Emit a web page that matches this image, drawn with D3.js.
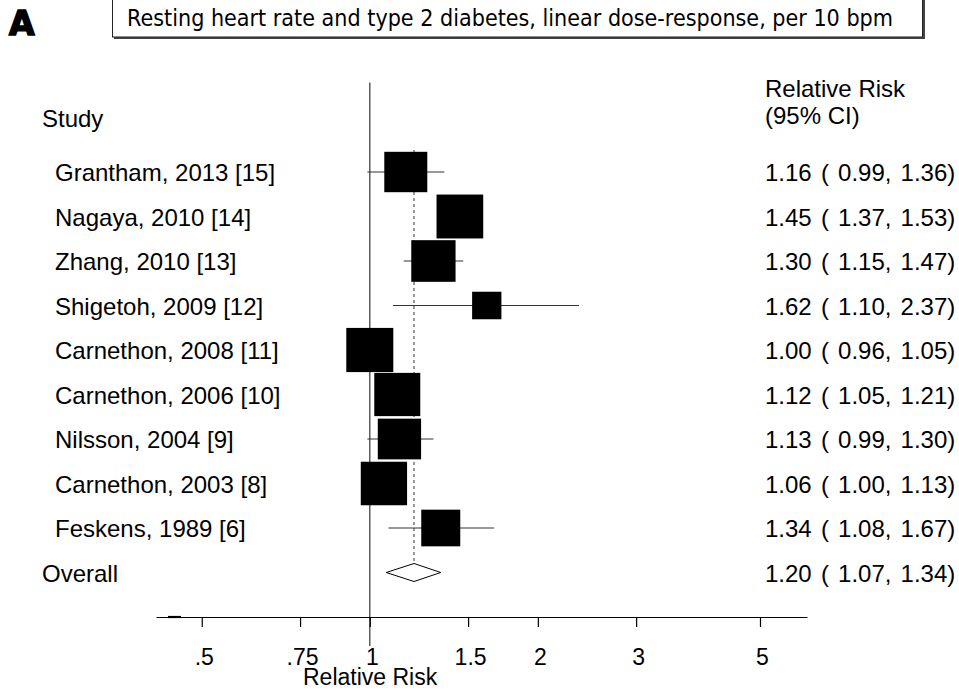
<!DOCTYPE html>
<html>
<head>
<meta charset="utf-8">
<script src="https://cdn.jsdelivr.net/npm/d3@7"></script>
<style>
  html, body { margin: 0; padding: 0; background: #fff; }
  svg { display: block; }
</style>
</head>
<body>
<svg id="chart" width="959" height="690"></svg>
<script>
// ---- Data ----
const studies = ["Grantham, 2013 [15]", "Nagaya, 2010 [14]", "Zhang, 2010 [13]", "Shigetoh, 2009 [12]",
  "Carnethon, 2008 [11]", "Carnethon, 2006 [10]", "Nilsson, 2004 [9]", "Carnethon, 2003 [8]", "Feskens, 1989 [6]"];
const rr    = [1.16, 1.45, 1.30, 1.62, 1.00, 1.12, 1.13, 1.06, 1.34];
const lower = [0.99, 1.37, 1.15, 1.10, 0.96, 1.05, 0.99, 1.00, 1.08];
const upper = [1.36, 1.53, 1.47, 2.37, 1.05, 1.21, 1.30, 1.13, 1.67];
const weights = [11.06, 13.05, 11.74, 5.13, 13.22, 12.66, 11.22, 12.83, 9.10];
const overall = { label: "Overall", rr: 1.20, lower: 1.07, upper: 1.34 };
const tickValues = [0.5, 0.75, 1, 1.5, 2, 3, 5];
const tickLabels = [".5", ".75", "1", "1.5", "2", "3", "5"];
const axisDomain = [0.414, 6.07];
const titleText = "Resting heart rate and type 2 diabetes, linear dose-response, per 10 bpm";
const panelLabel = "A";

const fmt = d3.format(".2f");
const ciText = (m, l, u) => `${fmt(m)} ( ${fmt(l)}, ${fmt(u)})`;

// ---- Layout ----
const svg = d3.select("#chart");
const font = "'Liberation Sans', Arial, sans-serif";

const x = d3.scaleLog().domain(axisDomain).range([156, 807]);
const rowNames = studies.concat([overall.label]);
const y = d3.scalePoint().domain(rowNames).range([172, 572.5]);
const size = d3.scaleSqrt().domain([0, d3.max(weights)]).range([0, 47]);

// Panel label
svg.append("text").attr("x", 9).attr("y", 35)
  .attr("font-family", "'DejaVu Sans', sans-serif").attr("font-weight", "bold")
  .attr("font-size", 33).attr("fill", "#000")
  .attr("stroke", "#000").attr("stroke-width", 1.6).attr("stroke-linejoin", "miter")
  .text(panelLabel);

// Title box with shadow
svg.append("rect").attr("x", 114).attr("y", -2).attr("width", 811).attr("height", 41).attr("fill", "#444");
svg.append("rect").attr("x", 112.5).attr("y", -1.5).attr("width", 810).attr("height", 38.5)
  .attr("fill", "#fff").attr("stroke", "#222").attr("stroke-width", 1);
svg.append("text").attr("x", 127).attr("y", 26)
  .attr("font-family", "'DejaVu Sans', sans-serif").attr("font-size", 22.5)
  .attr("textLength", 766).attr("lengthAdjust", "spacingAndGlyphs")
  .attr("fill", "#000").text(titleText);

// Headers
svg.append("text").attr("x", 42).attr("y", 127).attr("font-family", font).attr("font-size", 24).text("Study");
svg.append("text").attr("x", 765).attr("y", 97).attr("font-family", font).attr("font-size", 24).text("Relative Risk");
svg.append("text").attr("x", 765).attr("y", 124).attr("font-family", font).attr("font-size", 24).text("(95% CI)");

// Reference line at 1
svg.append("line").attr("x1", x(1)).attr("x2", x(1)).attr("y1", 82.5).attr("y2", 646)
  .attr("stroke", "#444").attr("stroke-width", 1.3);

// Dashed overall line
svg.append("line").attr("x1", x(overall.rr)).attr("x2", x(overall.rr))
  .attr("y1", y(studies[0]) - 22).attr("y2", y(overall.label) - 9)
  .attr("stroke", "#333").attr("stroke-width", 1).attr("stroke-dasharray", "3,3");

// CI lines
const rows = studies.map((s, i) => ({ s, m: rr[i], l: lower[i], u: upper[i], w: weights[i] }));
svg.append("g").selectAll("line").data(rows).join("line")
  .attr("x1", d => x(d.l)).attr("x2", d => x(d.u))
  .attr("y1", d => y(d.s)).attr("y2", d => y(d.s))
  .attr("stroke", "#333").attr("stroke-width", 1.2);

// Weight boxes
svg.append("g").selectAll("rect").data(rows).join("rect")
  .attr("x", d => x(d.m) - size(d.w) / 2)
  .attr("y", d => y(d.s) - size(d.w) * 0.94 / 2)
  .attr("width", d => size(d.w))
  .attr("height", d => size(d.w) * 0.94)
  .attr("fill", "#000");

// Overall diamond
const oy = y(overall.label);
svg.append("path")
  .attr("d", `M${x(overall.lower)},${oy} L${x(overall.rr)},${oy - 9} L${x(overall.upper)},${oy} L${x(overall.rr)},${oy + 9} Z`)
  .attr("fill", "#fff").attr("stroke", "#000").attr("stroke-width", 1);

// Left labels
svg.append("g").selectAll("text").data(rows).join("text")
  .attr("x", 55).attr("y", d => y(d.s) + 9)
  .attr("font-family", font).attr("font-size", 24).attr("fill", "#000")
  .text(d => d.s);
svg.append("text").attr("x", 42).attr("y", oy + 9)
  .attr("font-family", font).attr("font-size", 24).text(overall.label);

// Right labels
svg.append("g").selectAll("text").data(rows).join("text")
  .attr("x", 765).attr("y", d => y(d.s) + 9)
  .attr("font-family", font).attr("font-size", 24).attr("word-spacing", 2.5).attr("fill", "#000")
  .text(d => ciText(d.m, d.l, d.u));
svg.append("text").attr("x", 765).attr("y", oy + 9)
  .attr("font-family", font).attr("font-size", 24).attr("word-spacing", 2.5)
  .text(ciText(overall.rr, overall.lower, overall.upper));

// X axis
const axis = d3.axisBottom(x).tickValues(tickValues)
  .tickFormat((d, i) => tickLabels[i]).tickSize(10).tickSizeOuter(0).tickPadding(26);
const gAxis = svg.append("g").attr("transform", "translate(0,617)").call(axis);
gAxis.select(".domain").attr("stroke", "#000").attr("stroke-width", 1.2);
gAxis.selectAll(".tick line").attr("stroke", "#000").attr("stroke-width", 1.2);
gAxis.selectAll(".tick text").attr("font-family", font).attr("font-size", 23)
  .attr("fill", "#000").attr("dx", 2).attr("dy", 0).attr("y", 48);
// small dark segment at left end of axis
svg.append("line").attr("x1", x(0.435)).attr("x2", x(0.459)).attr("y1", 617).attr("y2", 617)
  .attr("stroke", "#000").attr("stroke-width", 2.2);

svg.append("text").attr("x", 303).attr("y", 685)
  .attr("font-family", font).attr("font-size", 23).text("Relative Risk");
</script>
</body>
</html>
